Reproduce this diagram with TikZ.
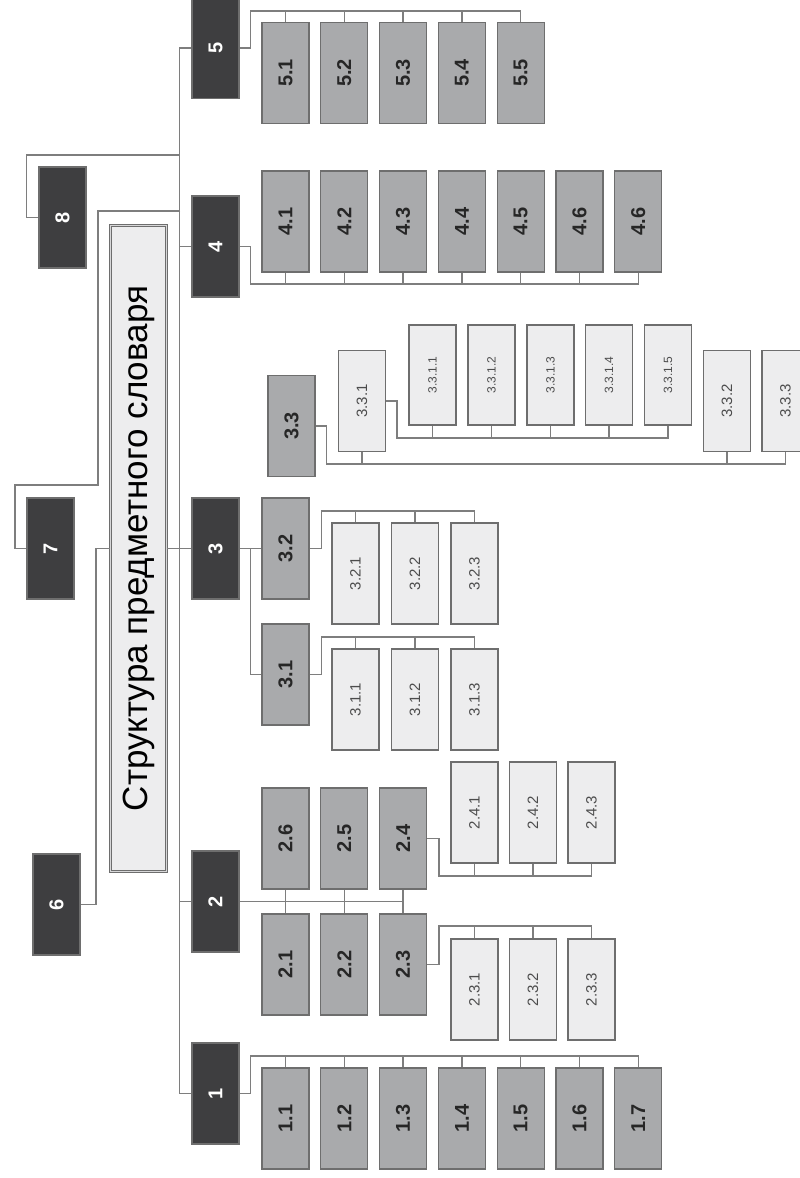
\documentclass[tikz,border=0pt]{standalone}
\usepackage{fontspec}
\setmainfont{Liberation Sans}
\usetikzlibrary{calc}
\definecolor{headfill}{HTML}{3E3E40}
\definecolor{midfill}{HTML}{A9AAAC}
\definecolor{leaffill}{HTML}{EDEDEE}
\definecolor{boxline}{HTML}{6E6E6E}
\definecolor{wiregray}{HTML}{7E7E7E}
\newcommand{\up}[1]{\rotatebox{90}{#1}}

\begin{document}
\begin{tikzpicture}[x=1pt,y=-1pt,
headbox/.style={rectangle,draw=boxline,line width=1.2pt,fill=headfill,text=white,
  font=\fontsize{20}{20}\selectfont\bfseries,minimum width=47pt,minimum height=101pt,inner sep=0pt},
midbox/.style={headbox,fill=midfill,text=black!85},
leafbox/.style={headbox,fill=leaffill,text=black!70,font=\fontsize{15}{15}\selectfont},
smallleaf/.style={leafbox,font=\fontsize{12}{12}\selectfont,minimum height=100pt},
titlebox/.style={rectangle,draw=boxline,line width=1pt,double=leaffill!80!gray,double distance=1.6pt,
  fill=leaffill,font=\fontsize{35}{35}\selectfont,minimum width=56pt,minimum height=646pt,inner sep=0pt},
wire/.style={draw=wiregray,line width=1.5pt}]
\useasboundingbox[fill=white] (0,0) rectangle (800,1178);
% top level
\node[headbox] (d5) at (215.5,48) {\up{5}};
\node[headbox] (d4) at (215.5,246.5) {\up{4}};
\node[headbox] (d3) at (215.5,548.5) {\up{3}};
\node[headbox] (d2) at (215.5,901.5) {\up{2}};
\node[headbox] (d1) at (215.5,1093.5) {\up{1}};
\node[headbox] (d8) at (62.5,217.5) {\up{8}};
\node[headbox] (d7) at (50.5,548.5) {\up{7}};
\node[headbox] (d6) at (56.5,904.5) {\up{6}};
\node[titlebox] (title) at (138.5,548.5) {\up{Структура предметного словаря}};
\coordinate (j8) at (180,155);
\coordinate (jt) at (180,211);
% second level
\node[midbox] (n51) at (285.5,73) {\up{5.1}};
\node[midbox] (n52) at (344.3,73) {\up{5.2}};
\node[midbox] (n53) at (403.1,73) {\up{5.3}};
\node[midbox] (n54) at (461.9,73) {\up{5.4}};
\node[midbox] (n55) at (520.7,73) {\up{5.5}};
\node[midbox] (n41) at (285.5,221.5) {\up{4.1}};
\node[midbox] (n42) at (344.3,221.5) {\up{4.2}};
\node[midbox] (n43) at (403.1,221.5) {\up{4.3}};
\node[midbox] (n44) at (461.9,221.5) {\up{4.4}};
\node[midbox] (n45) at (520.7,221.5) {\up{4.5}};
\node[midbox] (n46) at (579.5,221.5) {\up{4.6}};
\node[midbox] (n47) at (638.3,221.5) {\up{4.6}};
\node[midbox] (n33) at (291.5,426) {\up{3.3}};
\node[midbox] (n32) at (285.5,548.5) {\up{3.2}};
\node[midbox] (n31) at (285.5,674.5) {\up{3.1}};
\node[midbox] (n26) at (285.5,838.5) {\up{2.6}};
\node[midbox] (n25) at (344.3,838.5) {\up{2.5}};
\node[midbox] (n24) at (403.1,838.5) {\up{2.4}};
\node[midbox] (n21) at (285.5,964.5) {\up{2.1}};
\node[midbox] (n22) at (344.3,964.5) {\up{2.2}};
\node[midbox] (n23) at (403.1,964.5) {\up{2.3}};
\node[midbox] (n11) at (285.5,1118.5) {\up{1.1}};
\node[midbox] (n12) at (344.3,1118.5) {\up{1.2}};
\node[midbox] (n13) at (403.1,1118.5) {\up{1.3}};
\node[midbox] (n14) at (461.9,1118.5) {\up{1.4}};
\node[midbox] (n15) at (520.7,1118.5) {\up{1.5}};
\node[midbox] (n16) at (579.5,1118.5) {\up{1.6}};
\node[midbox] (n17) at (638.3,1118.5) {\up{1.7}};
% third level
\node[leafbox] (n331) at (362,401) {\up{3.3.1}};
\node[leafbox] (n332) at (727,401) {\up{3.3.2}};
\node[leafbox] (n333) at (785.5,401) {\up{3.3.3}};
\node[smallleaf] (n3311) at (432.5,375) {\up{3.3.1.1}};
\node[smallleaf] (n3312) at (491.5,375) {\up{3.3.1.2}};
\node[smallleaf] (n3313) at (550.5,375) {\up{3.3.1.3}};
\node[smallleaf] (n3314) at (609,375) {\up{3.3.1.4}};
\node[smallleaf] (n3315) at (668,375) {\up{3.3.1.5}};
\node[leafbox] (n321) at (355.5,573.5) {\up{3.2.1}};
\node[leafbox] (n322) at (415,573.5) {\up{3.2.2}};
\node[leafbox] (n323) at (474.5,573.5) {\up{3.2.3}};
\node[leafbox] (n311) at (355.5,699.5) {\up{3.1.1}};
\node[leafbox] (n312) at (415,699.5) {\up{3.1.2}};
\node[leafbox] (n313) at (474.5,699.5) {\up{3.1.3}};
\node[leafbox] (n241) at (474.5,812.5) {\up{2.4.1}};
\node[leafbox] (n242) at (533,812.5) {\up{2.4.2}};
\node[leafbox] (n243) at (591.5,812.5) {\up{2.4.3}};
\node[leafbox] (n231) at (474.5,989.5) {\up{2.3.1}};
\node[leafbox] (n232) at (533,989.5) {\up{2.3.2}};
\node[leafbox] (n233) at (591.5,989.5) {\up{2.3.3}};
% connectors
\begin{scope}[wire]
\draw (d5.west) -- ++(-12,0) |- (d1.west);
\draw (d4.west) -- ++(-12,0) (d3.west) -- ++(-12,0) (d2.west) -- ++(-12,0);
\draw (d8.west) -- ++(-12,0) |- (j8);
\draw (jt) -| (98,485) -| (15,548.5) -- (d7.west);
\draw (title.west) -- ++(-14,0) |- (d6.east);
\draw (title.east) -- ++(11.5,0);
\draw (d5.east) -| ++(11,-37) -| (n55.north);
\foreach \n in {n51,n52,n53,n54} \draw (\n.north) -- ++(0,-12);
\draw (d4.east) -| ++(11,37.5) -| (n47.south);
\foreach \n in {n41,n42,n43,n44,n45,n46} \draw (\n.south) -- ++(0,12);
\draw (d1.east) -| ++(11,-37.5) -| (n17.north);
\foreach \n in {n11,n12,n13,n14,n15,n16} \draw (\n.north) -- ++(0,-12);
\draw (d2.east) -- (d2.east -| n23.north);
\draw (n26.south) -- (n21.north) (n25.south) -- (n22.north) (n24.south) -- (n23.north);
\draw (n24.east) -| ++(12,37.5) -| (n243.south);
\foreach \n in {n241,n242} \draw (\n.south) -- ++(0,13);
\draw (n23.east) -| ++(12,-38.5) -| (n233.north);
\foreach \n in {n231,n232} \draw (\n.north) -- ++(0,-13);
\draw (d3.east) -- (n32.west);
\draw (d3.east) -- ++(11,0) |- (n31.west);
\draw (n32.east) -| ++(12,-37.5) -| (n323.north);
\foreach \n in {n321,n322} \draw (\n.north) -- ++(0,-12);
\draw (n31.east) -| ++(12,-37.5) -| (n313.north);
\foreach \n in {n311,n312} \draw (\n.north) -- ++(0,-12);
\draw (n33.east) -| ++(11,38) -| (n333.south);
\foreach \n in {n331,n332} \draw (\n.south) -- ++(0,12.5);
\draw (n331.east) -| ++(11,37) -| (n3315.south);
\foreach \n in {n3311,n3312,n3313,n3314} \draw (\n.south) -- ++(0,13);
\end{scope}
\end{tikzpicture}
\end{document}
